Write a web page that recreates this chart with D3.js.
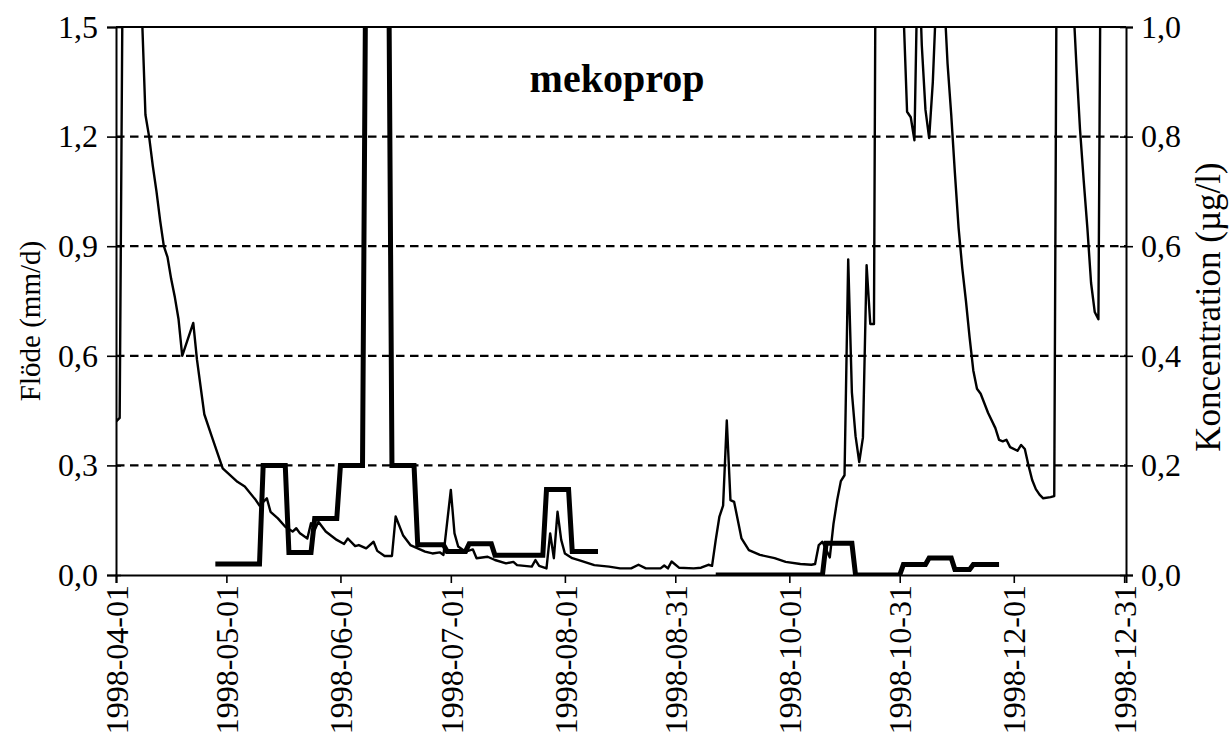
<!DOCTYPE html>
<html><head><meta charset="utf-8">
<script src="https://cdn.jsdelivr.net/npm/d3@7"></script>
<style>body{margin:0;background:#fff}</style>
</head><body>
<svg id="chart" width="1231" height="744"></svg>
<script>
// ---------- data ----------
const baseDate = "1998-04-01";
const axisEndDays = 274.5;
const tickLabels = ["1998-04-01","1998-05-01","1998-06-01","1998-07-01","1998-08-01","1998-08-31","1998-10-01","1998-10-31","1998-12-01","1998-12-31"];
const leftTicks = [0, 0.3, 0.6, 0.9, 1.2, 1.5];
const rightTicks = [0, 0.2, 0.4, 0.6, 0.8, 1.0];
const gridValues = [0.3, 0.6, 0.9, 1.2];
const chartTitle = "mekoprop";
const leftTitle = "Flöde (mm/d)";
const rightTitle = "Koncentration (µg/l)";

// flow (mm/d), day offset from baseDate
const flowDay = [0,1,2,3,4,5,6,7,8,9,10,11,12,13,14,15,16,17,18,21,22,24,26,29,33,35,38,39,41,42,44,46,48,49,50,52,53,54,55,57,60,62,63,65,66,68,70,71,73,75,76,78,80,82,84,86,88,89,91,92,93,95,97,98,101,103,106,108,109,113,114,115,117,118,119,120,121,122,124,126,130,134,137,140,142,144,148,149,150,151,153,157,159,161,162,163,164,165,166,167,168,170,172,175,179,182,186,189,190,191,192,193,194,195,196,197,198,199,200,201,202,203,204,205,206,207,209,211,213,214,215,216,217,218,219,220,221,222,223,224,225,226,227,228,229,230,231,232,233,234,235,236,237,239,240,241,242,243,245,246,247,248,249,250,251,252,254,255,256,257,259,260,261,262,263,264,265,266,267,268,270,274];
const flowValue = [0.42,0.43,1.95,2.3,2.4,2.2,1.9,1.55,1.26,1.20,1.12,1.05,0.97,0.90,0.87,0.81,0.76,0.70,0.60,0.69,0.59,0.44,0.38,0.292,0.255,0.242,0.205,0.19,0.21,0.173,0.155,0.132,0.119,0.128,0.114,0.10,0.142,0.123,0.146,0.119,0.096,0.085,0.10,0.079,0.082,0.073,0.091,0.066,0.052,0.052,0.16,0.109,0.082,0.073,0.064,0.059,0.062,0.055,0.233,0.114,0.078,0.064,0.07,0.046,0.05,0.041,0.032,0.036,0.027,0.023,0.041,0.025,0.018,0.114,0.046,0.173,0.096,0.059,0.046,0.04,0.027,0.023,0.018,0.018,0.028,0.018,0.018,0.026,0.018,0.037,0.02,0.018,0.02,0.028,0.025,0.096,0.16,0.19,0.423,0.205,0.20,0.10,0.068,0.055,0.046,0.036,0.03,0.028,0.03,0.082,0.091,0.07,0.048,0.14,0.205,0.257,0.273,0.864,0.50,0.38,0.309,0.376,0.848,0.687,0.687,3.0,3.2,2.8,2.0,1.55,1.268,1.253,1.19,1.75,1.45,1.273,1.196,1.35,1.6,1.9,1.6,1.4,1.26,1.1,0.95,0.84,0.75,0.65,0.56,0.51,0.496,0.47,0.444,0.402,0.37,0.366,0.37,0.35,0.34,0.356,0.345,0.30,0.26,0.235,0.22,0.21,0.213,0.216,2.5,3.0,2.0,1.6,1.4,1.22,1.08,0.95,0.80,0.72,0.70,2.4,3.0,2.8];

// concentration (µg/l) step periods, day offsets from baseDate
const concStart = [27,40,47,54,61,68,75,82,90,96,103,117,124,163,193,201,214,221,228,233];
const concEnd   = [39,46,53,60,67,74,81,89,95,102,116,123,131,192,200,213,220,227,232,240];
const concValue = [0.02,0.2,0.041,0.103,0.2,1.25,0.2,0.055,0.043,0.057,0.036,0.156,0.043,0,0.058,0,0.019,0.031,0.01,0.019];

// ---------- layout ----------
const M = {left:116, right:1126, top:27, bottom:575};
const FONT = "'Liberation Serif','Times New Roman',serif";
const svg = d3.select("#chart");

const parse = d3.utcParse("%Y-%m-%d");
const base = parse(baseDate);
const dayToDate = d => new Date(base.getTime() + d * 864e5);

const x = d3.scaleUtc().domain([base, dayToDate(axisEndDays)]).range([M.left, M.right]);
const yL = d3.scaleLinear().domain([0, 1.5]).range([M.bottom, M.top]);
const yR = d3.scaleLinear().domain([0, 1.0]).range([M.bottom, M.top]);
const fmt = v => v.toFixed(1).replace(".", ",");

// clip
svg.append("defs").append("clipPath").attr("id","plot")
  .append("rect").attr("x",M.left).attr("y",M.top)
  .attr("width",M.right-M.left).attr("height",M.bottom-M.top);

// grid
svg.append("g").selectAll("line").data(gridValues).join("line")
  .attr("x1",M.left).attr("x2",M.right)
  .attr("y1",d=>yL(d)).attr("y2",d=>yL(d))
  .attr("stroke","#000").attr("stroke-width",2.2).attr("stroke-dasharray","8.5,5.5");

// top border
svg.append("line").attr("x1",M.left).attr("x2",M.right).attr("y1",M.top).attr("y2",M.top)
  .attr("stroke","#000").attr("stroke-width",2);

// flow line
const flowPts = flowDay.map((d,i)=>({d, v:flowValue[i]}));
svg.append("path").datum(flowPts).attr("clip-path","url(#plot)")
  .attr("fill","none").attr("stroke","#000").attr("stroke-width",2.4).attr("stroke-linejoin","round")
  .attr("d", d3.line().x(p=>x(dayToDate(p.d))).y(p=>yL(p.v)));

// concentration line
const concPts = [];
concStart.forEach((s,i)=>{
  if (i>0 && s - concEnd[i-1] > 1) concPts.push(null);
  concPts.push({d:s, v:concValue[i]}, {d:concEnd[i], v:concValue[i]});
});
svg.append("path").datum(concPts).attr("clip-path","url(#plot)")
  .attr("fill","none").attr("stroke","#000").attr("stroke-width",5).attr("stroke-linejoin","miter")
  .attr("d", d3.line().defined(p=>p!==null).x(p=>x(dayToDate(p.d))).y(p=>yR(p.v)));

// axes
const axL = svg.append("g").attr("transform",`translate(${M.left},0)`)
  .call(d3.axisLeft(yL).tickValues(leftTicks).tickFormat(fmt).tickSizeOuter(0).tickSize(9).tickPadding(9));
axL.selectAll(".tick line").attr("x1",5);
const axR = svg.append("g").attr("transform",`translate(${M.right},0)`)
  .call(d3.axisRight(yR).tickValues(rightTicks).tickFormat(fmt).tickSizeOuter(0).tickSize(7).tickPadding(8));
axR.selectAll(".tick line").attr("x1",-6);
const axB = svg.append("g").attr("transform",`translate(0,${M.bottom})`)
  .call(d3.axisBottom(x).tickValues(tickLabels.map(parse)).tickFormat((d,i)=>tickLabels[i]).tickSizeOuter(0).tickSize(8));
axB.selectAll(".tick text").attr("transform","rotate(-90)").attr("x",-10).attr("y",0)
  .attr("dy","0.35em").style("text-anchor","end");

[axL,axR,axB].forEach(a=>{
  a.select(".domain").attr("stroke","#000").attr("stroke-width",2);
  a.selectAll(".tick line").attr("stroke","#000").attr("stroke-width",1.6);
  a.selectAll("text").attr("fill","#000").style("font-family",FONT).style("font-size","32px");
});

// titles
svg.append("text").attr("x",617).attr("y",92).attr("text-anchor","middle")
  .style("font-family",FONT).style("font-weight","bold").style("font-size","40px").text(chartTitle);
svg.append("text").attr("transform",`translate(40,321) rotate(-90)`)
  .attr("text-anchor","middle").style("font-family",FONT).style("font-size","29px").text(leftTitle);
svg.append("text").attr("transform",`translate(1220,307) rotate(-90)`)
  .attr("text-anchor","middle").style("font-family",FONT).style("font-size","35px").text(rightTitle);
</script>
</body></html>
